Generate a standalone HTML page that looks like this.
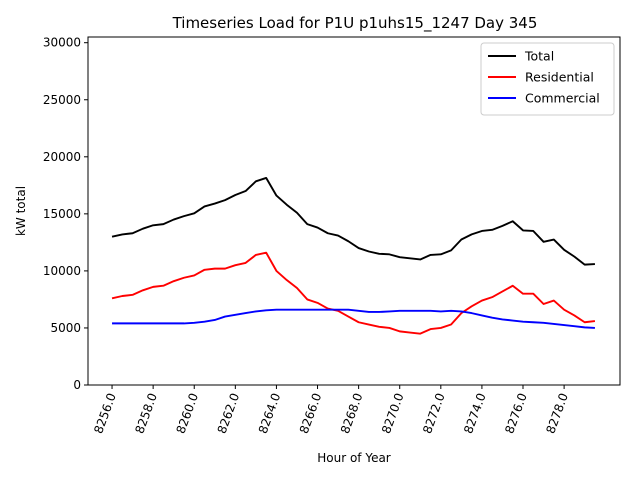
<!DOCTYPE html>
<html><head><meta charset="utf-8"><style>body{margin:0;background:#fff}svg{font-family:"DejaVu Sans","Liberation Sans",sans-serif}</style></head>
<body>
<svg id="c" width="640" height="480"></svg>
<script>
const hours=[];for(let i=0;i<48;i++)hours.push(8256+i*0.5);
const residential=[7600,7800,7900,8300,8600,8700,9100,9400,9600,10100,10200,10200,10500,10700,11400,11600,10000,9200,8500,7500,7200,6700,6500,6000,5500,5300,5100,5000,4700,4600,4500,4900,5000,5300,6300,6900,7400,7700,8200,8700,8000,8000,7100,7400,6600,6100,5500,5600];
const commercial=[5400,5400,5400,5400,5400,5400,5400,5400,5450,5550,5700,6000,6150,6300,6450,6550,6600,6600,6600,6600,6600,6600,6600,6600,6500,6400,6400,6450,6500,6500,6500,6500,6450,6500,6450,6300,6100,5900,5750,5650,5550,5500,5450,5350,5250,5150,5050,5000];
const total=[13000,13200,13300,13700,14000,14100,14500,14800,15050,15650,15900,16200,16650,17000,17850,18150,16600,15800,15100,14100,13800,13300,13100,12600,12000,11700,11500,11450,11200,11100,11000,11400,11450,11800,12750,13200,13500,13600,13950,14350,13550,13500,12550,12750,11850,11250,10550,10600];
const xTicks=[8256,8258,8260,8262,8264,8266,8268,8270,8272,8274,8276,8278];
const yTicks=[0,5000,10000,15000,20000,25000,30000];
const L=88,R=620,T=37,B=385,x0=8254.83,x1=8280.72,y0=0,y1=30500;
const X=v=>L+(v-x0)/(x1-x0)*(R-L), Y=v=>B-(v-y0)/(y1-y0)*(B-T);
const s=document.getElementById('c'),NS='http://www.w3.org/2000/svg';
function mk(t,a,p){const e=document.createElementNS(NS,t);for(const k in a)e.setAttribute(k,a[k]);(p||s).appendChild(e);return e;}
let e=mk('rect',{x:L,y:T,width:R-L,height:B-T,fill:'none',stroke:'#000','stroke-width':1});


e=mk('text',{x:355,y:28,'text-anchor':'middle','font-size':15});e.textContent='Timeseries Load for P1U p1uhs15_1247  Day 345';


e=mk('text',{x:354,y:462,'text-anchor':'middle','font-size':12});e.textContent='Hour of Year';


e=mk('text',{x:0,y:0,'text-anchor':'middle','font-size':12,transform:'translate(25,211) rotate(-90)'});e.textContent='kW total';


yTicks.forEach(v=>{const y=Y(v);mk('line',{x1:L-4,x2:L,y1:y,y2:y,stroke:'#000'});
 const t=mk('text',{x:L-7,y:y+4,'text-anchor':'end','font-size':12});t.textContent=v;
 
 });
xTicks.forEach(v=>{const x=X(v);mk('line',{x1:x,x2:x,y1:B,y2:B+4,stroke:'#000'});
 const t=mk('text',{x:0,y:0,'text-anchor':'end','font-size':12,transform:`translate(${x+4},${B+10}) rotate(-70)`});t.textContent=v.toFixed(1);
 
 });
function line(arr,col,name){const p=mk('polyline',{points:arr.map((v,i)=>X(hours[i])+','+Y(v)).join(' '),fill:'none',stroke:col,'stroke-width':1.9,'stroke-linejoin':'round'});
 
 }
line(total,'#000','total-line');line(residential,'#f00','residential-line');line(commercial,'#00f','commercial-line');
const lg=mk('g',{});


mk('rect',{x:481,y:43,width:133,height:72,fill:'#fff',stroke:'#ccc',rx:3},lg);
[['Total','#000'],['Residential','#f00'],['Commercial','#00f']].forEach((d,i)=>{const y=56+i*21;
 mk('line',{x1:488,x2:516,y1:y,y2:y,stroke:d[1],'stroke-width':1.9},lg);
 const t=mk('text',{x:525,y:y+4.5,'font-size':12.5},lg);t.textContent=d[0];
 
 });
</script>
</body></html>
